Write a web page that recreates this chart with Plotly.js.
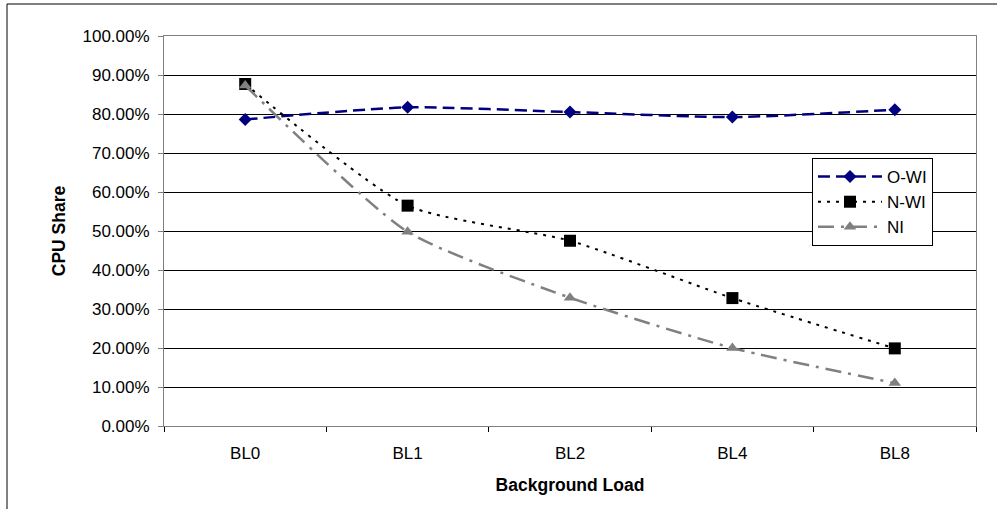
<!DOCTYPE html>
<html>
<head>
<meta charset="utf-8">
<script src="https://cdn.plot.ly/plotly-3.0.1.min.js"></script>
<style>
  html, body { margin: 0; padding: 0; background: #fff; }
  #chart { width: 997px; height: 509px; }
</style>
</head>
<body>
<div id="chart"></div>
<script>
const categories = ["BL0", "BL1", "BL2", "BL4", "BL8"];
const oWI = [0.786, 0.817, 0.805, 0.792, 0.811];
const nWI = [0.877, 0.565, 0.475, 0.328, 0.199];
const nI  = [0.873, 0.498, 0.329, 0.200, 0.110];
const yTitle = "CPU Share";
const xTitle = "Background Load";

const font = "Liberation Sans, Arial, sans-serif";

const traces = [
  {
    x: categories, y: oWI, name: "O-WI", type: "scatter", mode: "lines+markers",
    line: { color: "#000080", width: 2.5, dash: "12px,6px", shape: "spline", smoothing: 0.6 },
    marker: { symbol: "diamond", size: 10, color: "#000080" }
  },
  {
    x: categories, y: nWI, name: "N-WI", type: "scatter", mode: "lines+markers",
    line: { color: "#000000", width: 2, dash: "3px,6px", shape: "spline", smoothing: 0.6 },
    marker: { symbol: "square", size: 12, color: "#000000" }
  },
  {
    x: categories, y: nI, name: "NI", type: "scatter", mode: "lines+markers",
    line: { color: "#808080", width: 2.5, dash: "16px,7px,3px,7px", shape: "spline", smoothing: 0.6 },
    marker: { symbol: "triangle-up", size: 11, color: "#808080" }
  }
];

const layout = {
  width: 997, height: 509,
  margin: { l: 164, r: 21, t: 36, b: 83 },
  paper_bgcolor: "#ffffff",
  plot_bgcolor: "#ffffff",
  font: { family: font, size: 17, color: "#000" },
  showlegend: true,
  legend: {
    x: 0.798, y: 0.687, xanchor: "left", yanchor: "top",
    bgcolor: "#ffffff", bordercolor: "#000000", borderwidth: 1,
    font: { family: font, size: 17, color: "#000" },
    itemwidth: 64,
    tracegroupgap: 0
  },
  xaxis: {
    type: "category",
    range: [-0.5, 4.5],
    showgrid: false,
    showline: true, linecolor: "#808080", linewidth: 1, mirror: true,
    ticks: "outside", ticklen: 5, tickcolor: "#000", tickson: "boundaries",
    ticklabelstandoff: 12,
    tickfont: { family: font, size: 17, color: "#000" },
    title: { text: xTitle, font: { family: font, size: 17.5, color: "#000", weight: "bold" }, standoff: 16 },
    zeroline: false
  },
  yaxis: {
    range: [0, 1], dtick: 0.1, tick0: 0,
    tickformat: ".2%",
    showgrid: true, gridcolor: "#000000", gridwidth: 1,
    showline: true, linecolor: "#808080", linewidth: 1, mirror: true,
    ticks: "outside", ticklen: 5, tickcolor: "#808080",
    ticklabelstandoff: 5,
    tickfont: { family: font, size: 17, color: "#000" },
    title: { text: yTitle, font: { family: font, size: 17.5, color: "#000", weight: "bold" }, standoff: 12 },
    zeroline: false
  },
  shapes: [
    {
      type: "rect", xref: "paper", yref: "paper", layer: "above",
      x0: (7 - 164) / 812, x1: (1005 - 164) / 812,
      y0: (426 - 515) / 390, y1: (426 - 4) / 390,
      line: { color: "#000", width: 1 }, fillcolor: "rgba(0,0,0,0)"
    }
  ]
};

Plotly.newPlot("chart", traces, layout, { staticPlot: true, displayModeBar: false });
</script>
</body>
</html>
